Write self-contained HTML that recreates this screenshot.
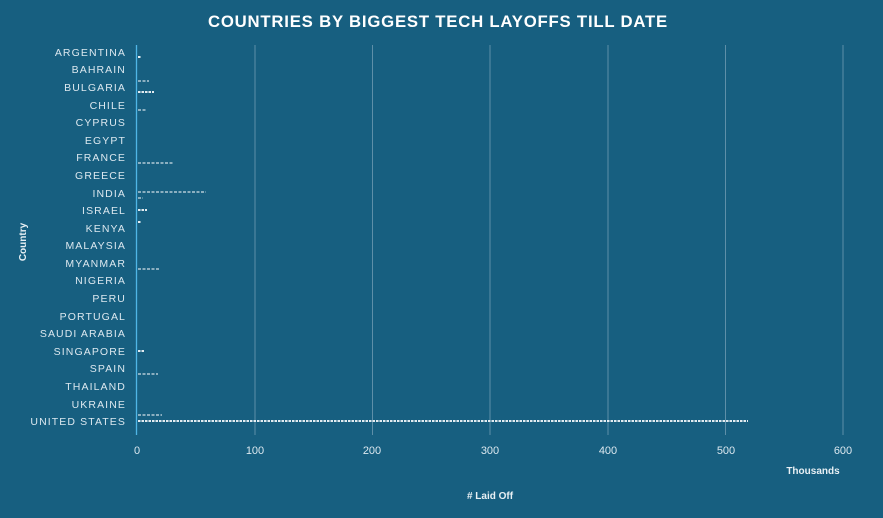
<!DOCTYPE html>
<html><head><meta charset="utf-8"><style>
html,body{margin:0;padding:0;background:#175f80;}
svg{display:block}
</style></head><body>
<svg width="883" height="518" xmlns="http://www.w3.org/2000/svg">
<rect width="883" height="518" fill="#175f80"/>
<text x="438" y="27" text-anchor="middle" font-family="Liberation Sans, sans-serif" font-weight="bold" font-size="17" fill="#fff" letter-spacing="0.8" textLength="460" lengthAdjust="spacingAndGlyphs">COUNTRIES BY BIGGEST TECH LAYOFFS TILL DATE</text>
<g stroke="#5e8fa8" stroke-width="1">
<line x1="255" y1="45" x2="255" y2="435"/>
<line x1="372.5" y1="45" x2="372.5" y2="435"/>
<line x1="490" y1="45" x2="490" y2="435"/>
<line x1="608" y1="45" x2="608" y2="435"/>
<line x1="725.5" y1="45" x2="725.5" y2="435"/>
<line x1="843" y1="45" x2="843" y2="435"/>
</g>
<line x1="136.5" y1="45" x2="136.5" y2="435" stroke="#4fb6e6" stroke-width="1.3"/>
<g font-family="Liberation Sans, sans-serif" font-size="10.5" fill="#dce8ef" text-anchor="end" letter-spacing="1.1">
<text x="126" y="56">ARGENTINA</text>
<text x="126" y="73">BAHRAIN</text>
<text x="126" y="91">BULGARIA</text>
<text x="126" y="109">CHILE</text>
<text x="126" y="126">CYPRUS</text>
<text x="126" y="144">EGYPT</text>
<text x="126" y="161">FRANCE</text>
<text x="126" y="179">GREECE</text>
<text x="126" y="197">INDIA</text>
<text x="126" y="214">ISRAEL</text>
<text x="126" y="232">KENYA</text>
<text x="126" y="249">MALAYSIA</text>
<text x="126" y="267">MYANMAR</text>
<text x="126" y="284">NIGERIA</text>
<text x="126" y="302">PERU</text>
<text x="126" y="320">PORTUGAL</text>
<text x="126" y="337">SAUDI ARABIA</text>
<text x="126" y="355">SINGAPORE</text>
<text x="126" y="372">SPAIN</text>
<text x="126" y="390">THAILAND</text>
<text x="126" y="408">UKRAINE</text>
<text x="126" y="425">UNITED STATES</text>
</g>
<g font-family="Liberation Sans, sans-serif" font-size="11" fill="#dce8ef" text-anchor="middle">
<text x="137" y="454">0</text>
<text x="255" y="454">100</text>
<text x="372" y="454">200</text>
<text x="490" y="454">300</text>
<text x="608" y="454">400</text>
<text x="726" y="454">500</text>
<text x="843" y="454">600</text>
</g>
<text x="813" y="474" text-anchor="middle" font-family="Liberation Sans, sans-serif" font-weight="bold" font-size="10" fill="#e8f0f4">Thousands</text>
<text x="490" y="499" text-anchor="middle" font-family="Liberation Sans, sans-serif" font-weight="bold" font-size="10" fill="#e8f0f4"># Laid Off</text>
<text transform="translate(26,242) rotate(-90)" text-anchor="middle" font-family="Liberation Sans, sans-serif" font-weight="bold" font-size="10" fill="#e8f0f4">Country</text>
<g stroke="#fff" fill="none">
<g stroke-width="1" stroke-dasharray="3,1.5">
<line x1="138" y1="81" x2="149" y2="81"/>
<line x1="138" y1="110" x2="146" y2="110"/>
<line x1="138" y1="163" x2="173" y2="163"/>
<line x1="138" y1="192" x2="206" y2="192"/>
<line x1="138" y1="198" x2="143" y2="198"/>
<line x1="138" y1="269" x2="159" y2="269"/>
<line x1="138" y1="374" x2="158" y2="374"/>
<line x1="138" y1="415" x2="162" y2="415"/>
</g>
<g stroke-width="1.8" stroke-dasharray="2.5,1">
<line x1="138" y1="57" x2="141" y2="57"/>
<line x1="138" y1="92" x2="154" y2="92"/>
<line x1="138" y1="210" x2="147" y2="210"/>
<line x1="138" y1="222" x2="141" y2="222"/>
<line x1="138" y1="351" x2="145" y2="351"/>
<line x1="138" y1="421" x2="748" y2="421"/>
</g>
</g>
</svg>
</body></html>
